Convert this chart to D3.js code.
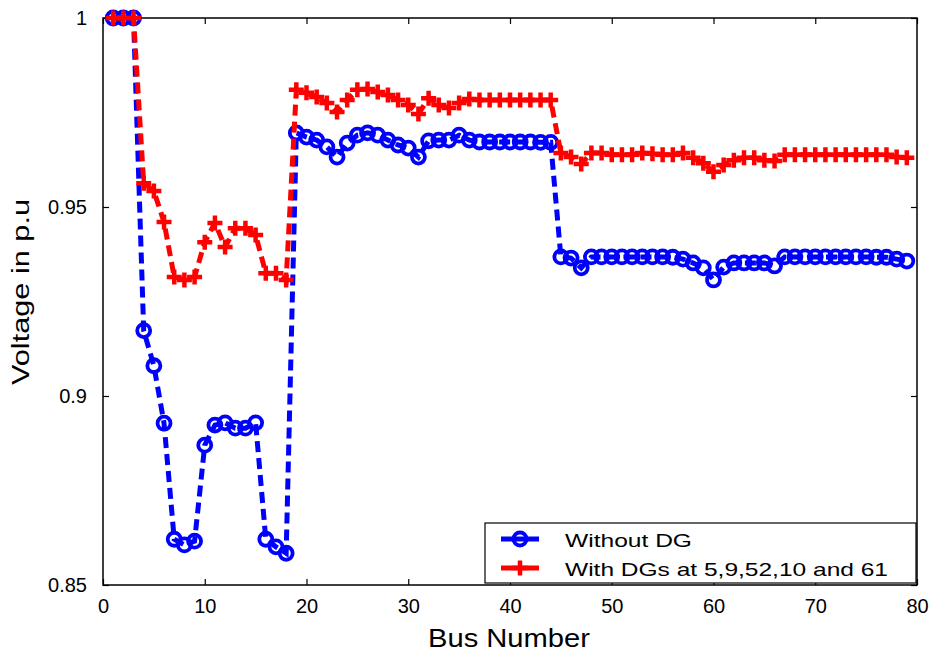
<!DOCTYPE html>
<html>
<head>
<meta charset="utf-8">
<script src="https://cdn.jsdelivr.net/npm/d3@7"></script>
<style>
  html, body { margin: 0; padding: 0; background: #fff; }
  svg { display: block; font-family: "Liberation Sans", Arial, sans-serif; }
</style>
</head>
<body>
<svg id="chart" width="937" height="654"></svg>
<script>
// Bus voltage profile, buses 1..79
const buses = d3.range(1, 80);

const withoutDG = [
  1.0, 1.0, 1.0, 0.9173, 0.9080, 0.8928, 0.8621, 0.8606, 0.8616, 0.8870,
  0.8923, 0.8929, 0.8915, 0.8915, 0.8929, 0.8621, 0.8601, 0.8584,
  0.9696, 0.9685, 0.9677, 0.9659, 0.9632, 0.9669, 0.9690, 0.9696, 0.9690,
  0.9677, 0.9664, 0.9656, 0.9632, 0.9675, 0.9677, 0.9677, 0.9690, 0.9677,
  0.9672, 0.9672, 0.9672, 0.9672, 0.9672, 0.9672, 0.9671, 0.9671,
  0.9368, 0.9365, 0.9339, 0.9368, 0.9368, 0.9368, 0.9368, 0.9368, 0.9368,
  0.9368, 0.9368, 0.9367, 0.9362, 0.9352, 0.9339, 0.9307, 0.9341, 0.9352,
  0.9352, 0.9352, 0.9352, 0.9344, 0.9368, 0.9368, 0.9368, 0.9368, 0.9368,
  0.9368, 0.9368, 0.9368, 0.9368, 0.9367, 0.9367, 0.9362, 0.9357
];

const withDGs = [
  1.0, 1.0, 1.0, 0.9563, 0.9542, 0.9460, 0.9315, 0.9307, 0.9315, 0.9407,
  0.9458, 0.9394, 0.9444, 0.9444, 0.9426, 0.9325, 0.9325, 0.9307,
  0.9810, 0.9802, 0.9791, 0.9775, 0.9751, 0.9783, 0.9810, 0.9812, 0.9804,
  0.9796, 0.9783, 0.9770, 0.9746, 0.9788, 0.9770, 0.9762, 0.9775, 0.9786,
  0.9783, 0.9783, 0.9783, 0.9783, 0.9783, 0.9783, 0.9783, 0.9783,
  0.9643, 0.9632, 0.9614, 0.9643, 0.9643, 0.9638, 0.9638, 0.9638, 0.9643,
  0.9641, 0.9638, 0.9638, 0.9643, 0.9630, 0.9616, 0.9593, 0.9611, 0.9624,
  0.9630, 0.9630, 0.9624, 0.9622, 0.9638, 0.9638, 0.9638, 0.9638, 0.9638,
  0.9638, 0.9638, 0.9638, 0.9638, 0.9638, 0.9638, 0.9632, 0.9630
];

const xTicks = [0, 10, 20, 30, 40, 50, 60, 70, 80];
const yTicks = [0.85, 0.9, 0.95, 1];
const seriesNames = ["Without DG", "With DGs at 5,9,52,10 and 61"];
const xTitle = "Bus Number";
const yTitle = "Voltage in p.u";

const svg = d3.select("#chart");
const plotLeft = 103, plotRight = 917, plotTop = 18, plotBottom = 585;

const x = d3.scaleLinear().domain([0, 80]).range([plotLeft, plotRight]);
const y = d3.scaleLinear().domain([0.85, 1]).range([plotBottom, plotTop]);

// Axes box
svg.append("rect")
  .attr("x", plotLeft).attr("y", plotTop)
  .attr("width", plotRight - plotLeft).attr("height", plotBottom - plotTop)
  .attr("fill", "none").attr("stroke", "#000").attr("stroke-width", 1.5);

const tickLen = 6;
const fmtY = v => (v === 1 ? "1" : String(v));

// Bottom axis with inward ticks
const gx = svg.append("g").attr("transform", `translate(0,${plotBottom})`)
  .call(d3.axisBottom(x).tickValues(xTicks).tickSizeInner(-tickLen).tickSizeOuter(0).tickPadding(14));
// Top inward ticks
svg.append("g").attr("transform", `translate(0,${plotTop})`)
  .call(d3.axisTop(x).tickValues(xTicks).tickSizeInner(-tickLen).tickSizeOuter(0).tickFormat(""));
// Left axis
const gy = svg.append("g").attr("transform", `translate(${plotLeft},0)`)
  .call(d3.axisLeft(y).tickValues(yTicks).tickSizeInner(-tickLen).tickSizeOuter(0).tickPadding(16).tickFormat(fmtY));
// Right inward ticks
svg.append("g").attr("transform", `translate(${plotRight},0)`)
  .call(d3.axisRight(y).tickValues(yTicks).tickSizeInner(-tickLen).tickSizeOuter(0).tickFormat(""));

svg.selectAll(".domain").remove();
svg.selectAll(".tick line").attr("stroke", "#000").attr("stroke-width", 1.2);
gx.selectAll(".tick text").attr("font-size", 20).attr("fill", "#000")
  .attr("font-family", "Liberation Sans, Arial, sans-serif");
gy.selectAll(".tick text").attr("font-size", 20).attr("fill", "#000")
  .attr("font-family", "Liberation Sans, Arial, sans-serif");

// Axis titles
svg.append("text")
  .attr("x", 509).attr("y", 647)
  .attr("text-anchor", "middle")
  .attr("font-size", 25)
  .attr("textLength", 162).attr("lengthAdjust", "spacingAndGlyphs")
  .text(xTitle);

svg.append("text")
  .attr("transform", "translate(29,292) rotate(-90)")
  .attr("text-anchor", "middle")
  .attr("font-size", 23)
  .attr("textLength", 186).attr("lengthAdjust", "spacingAndGlyphs")
  .text(yTitle);

// Lines: base case first, DG case drawn on top
const line = d3.line().x((d, i) => x(buses[i])).y(d => y(d));
const blue = "#0000ff", red = "#ff0000";

function plusPath(cx, cy, r) {
  return `M${cx - r},${cy}H${cx + r}M${cx},${cy - r}V${cy + r}`;
}

svg.append("path").datum(withoutDG)
  .attr("d", line).attr("fill", "none")
  .attr("stroke", blue).attr("stroke-width", 5).attr("stroke-dasharray", "11,6");
svg.append("g").selectAll("circle").data(withoutDG).join("circle")
  .attr("cx", (d, i) => x(buses[i])).attr("cy", d => y(d))
  .attr("r", 6.5).attr("fill", "none")
  .attr("stroke", blue).attr("stroke-width", 3.8);

svg.append("path").datum(withDGs)
  .attr("d", line).attr("fill", "none")
  .attr("stroke", red).attr("stroke-width", 5).attr("stroke-dasharray", "11,6");
svg.append("g").selectAll("path").data(withDGs).join("path")
  .attr("d", (d, i) => plusPath(x(buses[i]), y(d), 7.5))
  .attr("stroke", red).attr("stroke-width", 4.5).attr("fill", "none");

// Legend
const lg = svg.append("g");
lg.append("rect").attr("x", 485).attr("y", 523).attr("width", 431).attr("height", 60)
  .attr("fill", "#fff").attr("stroke", "#000").attr("stroke-width", 1.2);
const legendRows = [
  { name: seriesNames[0], color: blue, y: 539, len: 127 },
  { name: seriesNames[1], color: red, y: 568, len: 323 }
];
legendRows.forEach((r, k) => {
  lg.append("line").attr("x1", 501).attr("x2", 539).attr("y1", r.y).attr("y2", r.y)
    .attr("stroke", r.color).attr("stroke-width", 5);
  if (k === 0) {
    lg.append("circle").attr("cx", 520).attr("cy", r.y).attr("r", 6.5)
      .attr("fill", "none").attr("stroke", blue).attr("stroke-width", 3.8);
  } else {
    lg.append("path").attr("d", plusPath(520, r.y, 7.5))
      .attr("stroke", red).attr("stroke-width", 4.5).attr("fill", "none");
  }
  lg.append("text").attr("x", 565).attr("y", r.y + 8)
    .attr("font-size", 19)
    .attr("textLength", r.len).attr("lengthAdjust", "spacingAndGlyphs")
    .text(r.name);
});
</script>
</body>
</html>
